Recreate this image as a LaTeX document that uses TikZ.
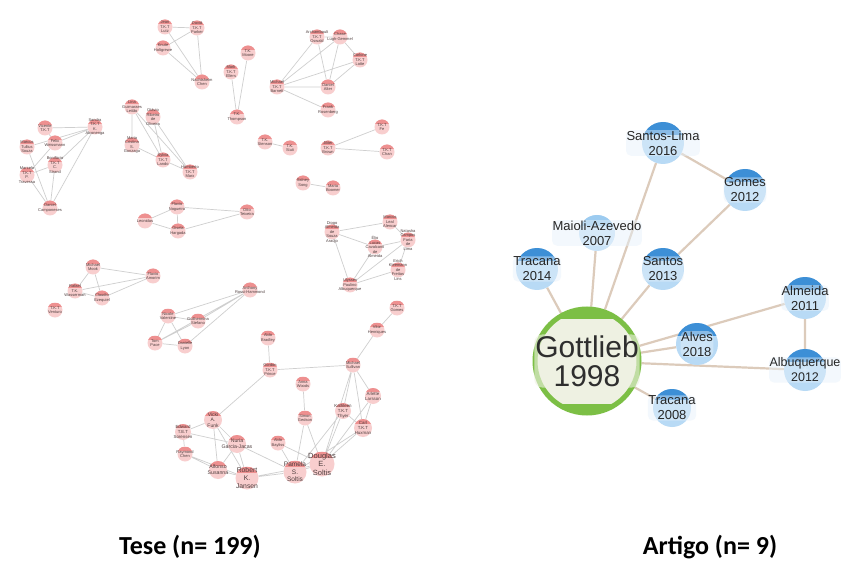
\documentclass[tikz,border=0pt]{standalone}
\usepackage{fontspec}
\setmainfont{Liberation Sans}
\newfontfamily\titlefont{Carlito}
\usetikzlibrary{backgrounds,calc}
\definecolor{pinkbody}{HTML}{F8CECE}
\definecolor{pinkcap}{HTML}{EE9090}
\definecolor{lbltext}{HTML}{4E3E3E}
\definecolor{ledgec}{HTML}{CFCFCF}
\definecolor{bluebody}{HTML}{B8DAF5}
\definecolor{bluecap}{HTML}{3D8FD6}
\definecolor{bluefade}{HTML}{9CCBF0}
\definecolor{labelbg}{HTML}{E6F1FB}
\definecolor{edgetan}{HTML}{DCCBBB}
\definecolor{ggreen}{HTML}{7CBF45}
\definecolor{gpale}{HTML}{EEF1E2}
\newcommand\pn[3]{\node[pnode] (#1) at (#2) {};\node[plbl] at (#1) {#3};}
\newcommand\pnb[6]{\node[pnode,minimum size=#3pt] (#1) at (#2) {};\node[plbl,font=\fontsize{#4}{#5}\selectfont] at (#1) {#6};}
\newcommand\bn[3]{\node[bnode] (#1) at (#2) {};\node[blbl] at (#1) {#3};}
\begin{document}
\begin{tikzpicture}[x=1pt,y=-1pt,
  pnode/.style={circle,inner sep=0pt,minimum size=15pt,fill=pinkbody,
    path picture={\fill[pinkcap] (path picture bounding box.north west) rectangle ($(path picture bounding box.east)!0.45!(path picture bounding box.north east)$);}},
  plbl/.style={font=\fontsize{4}{4.5}\selectfont,text=lbltext,align=center,inner sep=0pt},
  ledge/.style={draw=ledgec,line width=0.7pt},
  bnode/.style={circle,inner sep=0pt,minimum size=42pt,fill=bluebody,
    path picture={\fill[bluecap] (path picture bounding box.north west) rectangle ($(path picture bounding box.east)!0.4!(path picture bounding box.north east)$);}},
  blbl/.style={font=\fontsize{13}{15}\selectfont,text=black!85,align=center,fill=labelbg,fill opacity=0.45,text opacity=1,inner sep=0.5pt,rounded corners=5pt},
  redge/.style={draw=edgetan,line width=2.2pt},
  title/.style={font=\titlefont\bfseries\fontsize{26}{30}\selectfont,text=black}]
\useasboundingbox (0,0) rectangle (843,569);
% ---------- left network ----------
\pn{a1}{165,27}{Jean\\T.K.T\\Lutz}
\pn{a2}{197,28}{David\\T.K.T\\Parker}
\pn{a3}{163,48}{Knute\\Holtgrewe}
\pn{a4}{202,82}{Nachtsheim\\Chen}
\pn{b1}{248,53}{T.K.\\Moore}
\pn{b2}{231,72}{Mark\\T.K.T\\Ellers}
\pn{b3}{237,117}{T.K.\\Thompson}
\pn{c1}{317,37}{Archambault\\T.K.T\\Oswald}
\pn{c2}{340,37}{Chase\\Lugh-Gemmel}
\pn{c3}{360,60}{Carlone\\T.K.T\\Lotte}
\pn{c4}{277,87}{Michael\\T.K.T\\Barnett}
\pn{c5}{328,87}{Daniel\\Alter}
\pn{c6}{328,110}{Frank\\Rosenberg}
\pn{d1}{382,127}{T.K.T\\Fe}
\pn{d2}{328,148}{Jiliter\\T.K.T\\Brown}
\pn{d3}{387,152}{T.K.T\\Chan}
\pn{e1}{265,142}{T.K.\\Stenson}
\pn{e2}{290,148}{T.K.\\Stuti}
\pn{f1}{303,183}{Sidney\\Song}
\pn{f2}{333,188}{Maria\\Boomer}
\pn{g1}{45,128}{Vicente\\T.K.T}
\pn{g2}{95,127}{Sandra\\T.K.T\\K.\\Alconenga}
\pn{g3}{27,147}{Marcus\\Tullius\\Souza}
\pn{g4}{55,143}{Felix\\Weissmann}
\pn{g5}{55,165}{Bonifácio\\T.K.T\\C.\\Strand}
\pn{g6}{27,175}{Marcelo\\T.K.T\\P.\\Travessa}
\pn{g7}{50,208}{Daniel\\Camponeses}
\pn{h1}{132,107}{Lina\\Guimaraes\\Leitão}
\pn{h2}{153,117}{Otávio\\Ribeiro\\de\\Oliveira}
\pn{h3}{132,145}{Maria\\Cristina\\S.\\Gonzaga}
\pn{h4}{163,160}{Sylvia\\T.K.T\\Lando}
\pn{h5}{190,172}{Humberto\\T.K.T\\Marx}
\pn{i1}{177,207}{Flavio\\Nogueira}
\pn{i2}{247,212}{Otto\\Teixeira}
\pn{i3}{145,221}{Leonidas}
\pn{i4}{178,231}{Gisela\\Hargada}
\pn{j1}{332,232}{Diogo\\Almeida\\de\\Souza\\Araújo}
\pn{j2}{390,222}{Marcos\\Leal\\Alencar}
\pn{j3}{375,247}{Élio\\Lucas\\Cavalcanti\\de\\Almeida}
\pn{j4}{408,240}{Natasha\\Campos\\Faria\\de\\Lima}
\pn{j5}{398,270}{Erich\\Kleemann\\de\\Freitas\\Lins}
\pn{j6}{350,285}{Ulysses\\Paulino\\Albuquerque}
\pn{j7}{397,308}{T.K.T\\Gomes}
\pn{j8}{377,330}{Vitor\\Henriques}
\pn{k1}{93,267}{Michael\\Mook}
\pn{k2}{153,276}{Flavio\\Amorim}
\pn{k3}{75,291}{Rafael\\T.K.\\Wasserman}
\pn{k4}{102,298}{Claudio\\Ezequiel}
\pn{k5}{55,310}{T.K.T\\Venturo}
\pn{l1}{250,290}{Anthony\\Rossi-Hammond}
\pn{l2}{168,316}{Nicole\\Valentine}
\pn{l3}{198,321}{Guilhermina\\Stefano}
\pn{l4}{155,343}{Tom\\Pace}
\pn{l5}{185,346}{Danielle\\Lyon}
\pn{m1}{268,338}{Aldo\\Bradley}
\pn{m2}{270,370}{Gordon\\T.K.T\\Prince}
\pn{m3}{353,365}{Michael\\Sullivan}
\pn{m4}{303,384}{Anna\\Woods}
\pn{m5}{305,418}{Simon\\Gedson}
\pnb{m6}{343,411}{16}{4.4}{5}{Kathleen\\T.K.T\\Thyer}
\pnb{m7}{373,396}{16}{4.4}{5}{Arlette\\Larsson}
\pnb{m8}{363,428}{18}{4.4}{5}{Carl\\T.K.T\\Huxman}
\pnb{m9}{213,420}{18}{5}{5.6}{Vicki\\A.\\Funk}
\pnb{m10}{183,432}{16}{4.4}{5}{Edward\\T.E.T\\Sorensen}
\pn{m11}{185,454}{Raymond\\Chen}
\pnb{m12}{237,444}{18}{5.2}{6}{Nuria\\Garcia-Jacas}
\pn{m13}{278,443}{Aldo\\Bayliss}
\pnb{m14}{218,470}{18}{5.2}{6}{Alfonso\\Susanna}
\pnb{m15}{247,478}{23}{6.8}{7.6}{Robert\\K.\\Jansen}
\pnb{m16}{295,472}{23}{6.5}{7.4}{Pamela\\S.\\Soltis}
\pnb{m17}{322,464}{25}{7.5}{8.4}{Douglas\\E.\\Soltis}
\begin{scope}[on background layer]
\fill[white] (0,0) rectangle (843,569);
\draw[ledge] (a1)--(a2) (a1)--(a4) (a2)--(a4) (a3)--(a4) (a3)--(a2)
 (b1)--(b3) (b2)--(b3)
 (c4)--(c1) (c4)--(c2) (c4)--(c3) (c4)--(c5) (c4)--(c6) (c5)--(c1) (c5)--(c2) (c5)--(c3) (c1)--(c2) (c2)--(c3)
 (d2)--(d1) (d2)--(d3) (e1)--(e2) (f1)--(f2)
 (g2)--(g1) (g2)--(g4) (g2)--(g3) (g2)--(g5) (g2)--(g7) (g1)--(g4) (g6)--(g7) (g5)--(g7) (g6)--(g5) (g3)--(g7) (g4)--(g6)
 (h1)--(h3) (h1)--(h4) (h1)--(h5) (h2)--(h4) (h2)--(h5) (h3)--(h4) (h4)--(h5)
 (i1)--(i2) (i1)--(i3) (i1)--(i4) (i3)--(i4) (i4)--(i2)
 (j1)--(j2) (j1)--(j3) (j1)--(j6) (j6)--(j3) (j6)--(j5) (j6)--(j4) (j3)--(j4) (j5)--(j4) (j2)--(j4) (j7)--(j8)
 (k1)--(k2) (k1)--(k3) (k1)--(k4) (k3)--(k2) (k4)--(k2) (k3)--(k4)
 (l1)--(l2) (l1)--(l3) (l1)--(l4) (l1)--(l5) (l2)--(l3) (l2)--(l4) (l2)--(l5) (l4)--(l5) (l3)--(l4)
 (m1)--(m2) (m2)--(m3) (m2)--(m9) (j8)--(m3) (m3)--(m6) (m3)--(m7) (m3)--(m8) (m3)--(m17)
 (m4)--(m5) (m5)--(m16) (m5)--(m17) (m6)--(m17) (m6)--(m16) (m7)--(m8) (m7)--(m17) (m8)--(m17) (m8)--(m16)
 (m9)--(m12) (m9)--(m14) (m9)--(m15) (m9)--(m10) (m10)--(m11) (m10)--(m12) (m11)--(m14) (m12)--(m14)
 (m12)--(m16) (m12)--(m15) (m13)--(m16) (m14)--(m15) (m15)--(m16) (m15)--(m17) (m16)--(m17) (m11)--(m15) (m13)--(m17) (m6)--(m8);
\end{scope}
% ---------- right network ----------
\node[circle,inner sep=0pt,minimum size=104pt,fill=gpale,draw=ggreen,line width=5pt,
  path picture={\fill[ggreen] (path picture bounding box.north west) rectangle ($(path picture bounding box.east)!0.8!(path picture bounding box.north east)$);
                \fill[ggreen] (path picture bounding box.south west) rectangle ($(path picture bounding box.east)!0.82!(path picture bounding box.south east)$);}]
  (G) at (587,361) {};
\node[font=\fontsize{30}{29}\selectfont,text=black!82,align=center,inner sep=1pt,fill=gpale,fill opacity=0.6,text opacity=1,rounded corners=8pt] at (G) {Gottlieb\\1998};
\bn{SL}{663,143}{Santos-Lima\\2016}
\bn{GO}{745,190}{Gomes\\2012}
\node[bnode,minimum size=36pt,fill=bluebody!75!white,path picture={\fill[bluefade] (path picture bounding box.north west) rectangle ($(path picture bounding box.east)!0.4!(path picture bounding box.north east)$);}] (MA) at (597,233) {};
\node[blbl] at (MA) {Maioli-Azevedo\\2007};
\bn{T14}{537,269}{Tracana\\2014}
\bn{SA}{663,269}{Santos\\2013}
\bn{AL}{805,298}{Almeida\\2011}
\bn{AV}{697,344}{Alves\\2018}
\bn{AB}{805,370}{}
\node[blbl,font=\fontsize{12.5}{15}\selectfont] at (AB) {Albuquerque\\2012};
\node[bnode,minimum size=38pt] (T08) at (672,408) {};
\node[blbl] at (T08) {Tracana\\2008};
\begin{scope}[on background layer]
\draw[redge] (G)--(T14) (G)--(MA) (G)--(SL) (G)--(SA) (G)--(AL) (G)--(AV) (G)--(AB) (G)--(T08)
  (SL)--(GO) (GO)--(SA) (AL)--(AB);
\end{scope}
% ---------- titles ----------
\node[title] (t1) at (190,547) {Tese (n= 199)};
\node[title] (t2) at (710,547) {Artigo (n= 9)};
\end{tikzpicture}
\end{document}
